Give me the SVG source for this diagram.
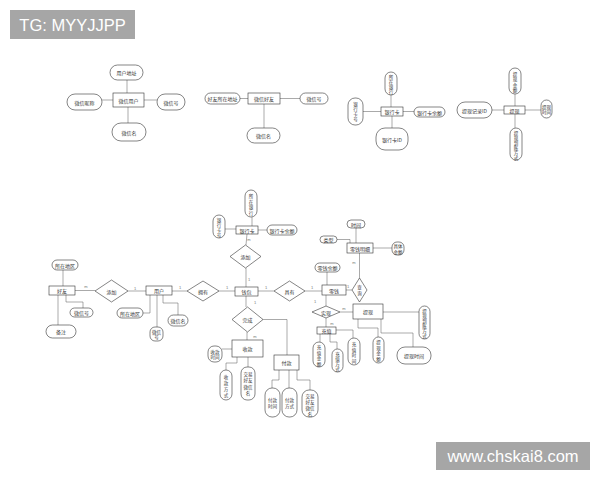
<svg xmlns="http://www.w3.org/2000/svg" width="600" height="480" viewBox="0 0 600 480">
<style>
.n{fill:#fff;stroke:#333;stroke-width:0.6}
.c{fill:none;stroke:#555;stroke-width:0.5}
.t{font-family:"Noto Sans CJK SC",sans-serif;font-size:5px;fill:#333;text-anchor:middle;dominant-baseline:central}
.v{font-family:"Noto Sans CJK SC",sans-serif;font-size:4.5px;fill:#333;text-anchor:middle;dominant-baseline:central}
.l{font-family:"Liberation Sans",sans-serif;font-size:4px;fill:#777;text-anchor:middle;dominant-baseline:central}
.w{font-family:"Liberation Sans",sans-serif;font-size:16.5px;fill:#fff;text-anchor:middle;dominant-baseline:central}
</style>
<rect width="600" height="480" fill="#fff"/>

<g id="connectors">
<!-- cluster 1 -->
<path class="c" d="M127,80V93M102,100H113M144,100H157M128,107V123"/>
<!-- cluster 2 -->
<path class="c" d="M240,98.5H248M280,98.5H300M264,104V128"/>
<!-- cluster 3 -->
<path class="c" d="M391,95V107M363,111.5H381M403,111.5H414M392,116V128"/>
<!-- cluster 4 -->
<path class="c" d="M515,94V106M492,110H504M525,110H541M515,114V128"/>
<!-- bottom -->
<path class="c" d="M63,270V286M66,295V302H83V308M58,295V325"/>
<path class="c" d="M75,290.5H95M128,291H146"/>
<path class="c" d="M150,295V313H143M157,295V327M163,295V303H178V315"/>
<path class="c" d="M172,291H187M219,291H235"/>
<path class="c" d="M252,217V226M225,229H236M258,230H267"/>
<path class="c" d="M247,234L246,245M246,268V287"/>
<path class="c" d="M258,291H274M305,291H322"/>
<path class="c" d="M327,272V285M346,290H352M359.5,278V253"/>
<path class="c" d="M356,228V243M337,239.5H350V243M373,248H392"/>
<path class="c" d="M326,295V306M340,312H353M383,312H419"/>
<path class="c" d="M381,319V333H413V347M358,319V328H378V337"/>
<path class="c" d="M326,318V327M320,334V342M330,334V342H337V349M336,330H353V338"/>
<path class="c" d="M246,296V307M263,319.5H287V355M247,332V340"/>
<path class="c" d="M232,349H222M237,357V363H226V370M248,357V367"/>
<path class="c" d="M279,370V380H272V388M289,370V388M297,370V380H310V390"/>
<!-- cardinality labels -->
<text class="l" x="86" y="286">m</text>
<text class="l" x="135" y="288">1</text>
<text class="l" x="180" y="287">1</text>
<text class="l" x="227" y="287">1</text>
<text class="l" x="249" y="239">m</text>
<text class="l" x="249" y="279">1</text>
<text class="l" x="266" y="287">1</text>
<text class="l" x="312" y="287">1</text>
<text class="l" x="348" y="286">1</text>
<text class="l" x="354" y="262">m</text>
<text class="l" x="315" y="301">1</text>
<text class="l" x="344" y="308">m</text>
<text class="l" x="332" y="323">m</text>
<text class="l" x="255" y="302">1</text>
<text class="l" x="255" y="336">m</text>
</g>

<!-- cluster 1 -->
<g id="wx-user"><rect class="n" x="113" y="93" width="31" height="14"/><text class="t" x="128.5" y="100">微信用户</text></g>
<g id="wx-user-addr"><rect class="n" x="110" y="65" width="33" height="15" rx="7.5"/><text class="t" x="126.5" y="72.5">用户地址</text></g>
<g id="wx-user-nick"><rect class="n" x="67" y="94" width="35" height="16" rx="8"/><text class="t" x="84.5" y="102">微信昵称</text></g>
<g id="wx-user-id"><rect class="n" x="157" y="94" width="28" height="16" rx="8"/><text class="t" x="171" y="102">微信号</text></g>
<g id="wx-user-name"><rect class="n" x="112" y="123" width="34" height="18" rx="9"/><text class="t" x="129" y="132">微信名</text></g>

<!-- cluster 2 -->
<g id="wx-friend"><rect class="n" x="248" y="93" width="32" height="11"/><text class="t" x="264" y="98.5">微信好友</text></g>
<g id="wx-friend-addr"><rect class="n" x="205" y="93" width="35" height="11" rx="5.5"/><text class="t" x="222.5" y="98.5">好友所在地址</text></g>
<g id="wx-friend-id"><rect class="n" x="300" y="93" width="28" height="11" rx="5.5"/><text class="t" x="314" y="98.5">微信号</text></g>
<g id="wx-friend-name"><rect class="n" x="247" y="128" width="33" height="15" rx="7.5"/><text class="t" x="263.5" y="135.5">微信名</text></g>

<!-- cluster 3 -->
<g id="card"><rect class="n" x="381" y="107" width="22" height="9"/><text class="t" x="392" y="111.5">银行卡</text></g>
<g id="card-bank"><rect class="n" x="385" y="72" width="12" height="23" rx="6"/><text class="v" x="391"><tspan x="391" y="76.5">所</tspan><tspan x="391" y="81.5">在</tspan><tspan x="391" y="86.5">银</tspan><tspan x="391" y="91.5">行</tspan></text></g>
<g id="card-no"><rect class="n" x="348" y="98" width="15" height="27" rx="7"/><text class="v"><tspan x="355.5" y="104">银</tspan><tspan x="355.5" y="109">行</tspan><tspan x="355.5" y="114">卡</tspan><tspan x="355.5" y="119">号</tspan></text></g>
<g id="card-bal"><rect class="n" x="414" y="107" width="31" height="10" rx="5"/><text class="t" x="429.5" y="112">银行卡余额</text></g>
<g id="card-id"><rect class="n" x="376" y="128" width="32" height="22" rx="9"/><text class="t" x="392" y="139">银行卡ID</text></g>

<!-- cluster 4 -->
<g id="wd"><rect class="n" x="504" y="106" width="21" height="8"/><text class="t" x="514.5" y="110">提现</text></g>
<g id="wd-amt"><rect class="n" x="509" y="68" width="12" height="26" rx="6"/><text class="v"><tspan x="515" y="73.5">提</tspan><tspan x="515" y="79">现</tspan><tspan x="515" y="84.5">金</tspan><tspan x="515" y="90">额</tspan></text></g>
<g id="wd-id"><rect class="n" x="457" y="102" width="35" height="16" rx="8"/><text class="t" x="474.5" y="110">提现记录ID</text></g>
<g id="wd-time"><rect class="n" x="541" y="100" width="11" height="18" rx="5.5"/><text class="v"><tspan x="546.5" y="106.5">提现</tspan><tspan x="546.5" y="112">时间</tspan></text></g>
<g id="wd-way"><rect class="n" x="510" y="128" width="12" height="32" rx="6"/><text class="v"><tspan x="516" y="132.5">提</tspan><tspan x="516" y="137.5">现</tspan><tspan x="516" y="142.5">到</tspan><tspan x="516" y="147.5">账</tspan><tspan x="516" y="152.5">方</tspan><tspan x="516" y="157.5">式</tspan></text></g>

<!-- bottom ER -->
<g id="friend"><rect class="n" x="49" y="286" width="26" height="9"/><text class="t" x="62" y="290.5">好友</text></g>
<g id="friend-area"><rect class="n" x="52" y="260" width="26" height="10" rx="5"/><text class="t" x="65" y="265">所在地区</text></g>
<g id="friend-id"><rect class="n" x="70" y="308" width="23" height="9" rx="4.5"/><text class="t" x="81.5" y="312.5">微信号</text></g>
<g id="friend-note"><rect class="n" x="46" y="325" width="30" height="13" rx="6.5"/><text class="t" x="61" y="331.5">备注</text></g>
<g id="rel-add1"><polygon class="n" points="95,291 111.5,280 128,291 111.5,302"/><text class="t" x="111.5" y="291">添加</text></g>
<g id="user"><rect class="n" x="146" y="286" width="26" height="9"/><text class="t" x="159" y="290.5">用户</text></g>
<g id="user-area"><rect class="n" x="117" y="308" width="26" height="10" rx="5"/><text class="t" x="130" y="313">所在地区</text></g>
<g id="user-id"><rect class="n" x="150" y="327" width="13" height="14" rx="5"/><text class="v"><tspan x="156.5" y="331.5">微信</tspan><tspan x="156.5" y="336.5">号</tspan></text></g>
<g id="user-name"><rect class="n" x="168" y="315" width="20" height="11" rx="5.5"/><text class="t" x="178" y="320.5">微信名</text></g>
<g id="rel-own"><polygon class="n" points="187,291 203,281 219,291 203,301"/><text class="t" x="203" y="291">拥有</text></g>
<g id="wallet"><rect class="n" x="235" y="287" width="23" height="9"/><text class="t" x="246.5" y="291.5">钱包</text></g>
<g id="bcard"><rect class="n" x="236" y="226" width="22" height="8"/><text class="t" x="247" y="230">银行卡</text></g>
<g id="bcard-bank"><rect class="n" x="245" y="190" width="12" height="27" rx="6"/><text class="v"><tspan x="251" y="196">所</tspan><tspan x="251" y="201.5">在</tspan><tspan x="251" y="207">银</tspan><tspan x="251" y="212.5">行</tspan></text></g>
<g id="bcard-no"><rect class="n" x="213" y="215" width="12" height="23" rx="6"/><text class="v"><tspan x="219" y="219.5">银</tspan><tspan x="219" y="224.5">行</tspan><tspan x="219" y="229.5">卡</tspan><tspan x="219" y="234.5">号</tspan></text></g>
<g id="bcard-bal"><rect class="n" x="267" y="225" width="30" height="10" rx="5"/><text class="t" x="282" y="230">银行卡余额</text></g>
<g id="rel-add2"><polygon class="n" points="230,256.5 245.5,245 261,256.5 245.5,268"/><text class="t" x="245.5" y="256.5">添加</text></g>
<g id="rel-has"><polygon class="n" points="274,291 289.5,281 305,291 289.5,301"/><text class="t" x="289.5" y="291">具有</text></g>
<g id="change"><rect class="n" x="322" y="285" width="24" height="10"/><text class="t" x="334" y="290">零钱</text></g>
<g id="change-bal"><rect class="n" x="315" y="263" width="25" height="9" rx="4.5"/><text class="t" x="327.5" y="267.5">零钱余额</text></g>
<g id="rel-query"><polygon class="n" points="352,290 359.5,278 367,290 359.5,302"/><text class="v"><tspan x="359.5" y="287">查</tspan><tspan x="359.5" y="293">询</tspan></text></g>
<g id="detail"><rect class="n" x="347" y="243" width="26" height="10"/><text class="t" x="360" y="248">零钱明细</text></g>
<g id="detail-time"><rect class="n" x="347" y="220" width="18" height="8" rx="4"/><text class="t" x="356" y="224">时间</text></g>
<g id="detail-type"><rect class="n" x="320" y="236" width="17" height="7" rx="3.5"/><text class="t" x="328.5" y="239.5">类型</text></g>
<g id="detail-amt"><rect class="n" x="392" y="242" width="12" height="13" rx="5"/><text class="v"><tspan x="398" y="246">具体</tspan><tspan x="398" y="251.5">金额</tspan></text></g>
<g id="rel-impl"><polygon class="n" points="312,312 326,306 340,312 326,318"/><text class="t" x="326" y="312">实现</text></g>
<g id="withdraw"><rect class="n" x="353" y="304" width="30" height="15"/><text class="t" x="368" y="311.5">提现</text></g>
<g id="withdraw-way"><rect class="n" x="419" y="306" width="11" height="33" rx="5.5"/><text class="v"><tspan x="424.5" y="311">提</tspan><tspan x="424.5" y="316">现</tspan><tspan x="424.5" y="321">到</tspan><tspan x="424.5" y="326">账</tspan><tspan x="424.5" y="331">方</tspan><tspan x="424.5" y="336">式</tspan></text></g>
<g id="withdraw-time"><rect class="n" x="397" y="347" width="34" height="17" rx="8"/><text class="t" x="414" y="355.5">提现时间</text></g>
<g id="withdraw-amt"><rect class="n" x="373" y="337" width="11" height="26" rx="5.5"/><text class="v"><tspan x="378.5" y="342">提</tspan><tspan x="378.5" y="347.5">现</tspan><tspan x="378.5" y="353">金</tspan><tspan x="378.5" y="358.5">额</tspan></text></g>
<g id="recharge"><rect class="n" x="317" y="327" width="19" height="7"/><text class="t" x="326.5" y="330.5">充值</text></g>
<g id="recharge-amt"><rect class="n" x="313" y="342" width="12" height="25" rx="6"/><text class="v"><tspan x="319" y="347">充</tspan><tspan x="319" y="352.5">值</tspan><tspan x="319" y="358">金</tspan><tspan x="319" y="363.5">额</tspan></text></g>
<g id="recharge-way"><rect class="n" x="332" y="349" width="11" height="23" rx="5.5"/><text class="v"><tspan x="337.5" y="353.5">充</tspan><tspan x="337.5" y="358.5">值</tspan><tspan x="337.5" y="363.5">方</tspan><tspan x="337.5" y="368.5">式</tspan></text></g>
<g id="recharge-time"><rect class="n" x="348" y="338" width="12" height="27" rx="6"/><text class="v"><tspan x="354" y="344">充</tspan><tspan x="354" y="349.5">值</tspan><tspan x="354" y="355">时</tspan><tspan x="354" y="360.5">间</tspan></text></g>
<g id="rel-done"><polygon class="n" points="232,319.5 247.5,307 263,319.5 247.5,332"/><text class="t" x="247.5" y="319.5">完成</text></g>
<g id="receive"><rect class="n" x="232" y="340" width="31" height="17"/><text class="t" x="247.5" y="348.5">收款</text></g>
<g id="receive-time"><rect class="n" x="208" y="346" width="14" height="16" rx="6"/><text class="v"><tspan x="215" y="351.5">收款</tspan><tspan x="215" y="357">时间</tspan></text></g>
<g id="receive-way"><rect class="n" x="220" y="370" width="12" height="30" rx="6"/><text class="v"><tspan x="226" y="376.5">收</tspan><tspan x="226" y="382.5">款</tspan><tspan x="226" y="388.5">方</tspan><tspan x="226" y="394.5">式</tspan></text></g>
<g id="receive-friend"><rect class="n" x="241" y="367" width="14" height="33" rx="6"/><text class="v"><tspan x="248" y="373.5">交易</tspan><tspan x="248" y="380">好友</tspan><tspan x="248" y="386.5">微信</tspan><tspan x="248" y="393">名</tspan></text></g>
<g id="pay"><rect class="n" x="274" y="355" width="25" height="15"/><text class="t" x="286.5" y="362.5">付款</text></g>
<g id="pay-time"><rect class="n" x="265" y="388" width="15" height="29" rx="7"/><text class="v"><tspan x="272.5" y="399.5">付款</tspan><tspan x="272.5" y="405.5">时间</tspan></text></g>
<g id="pay-way"><rect class="n" x="282" y="388" width="15" height="29" rx="7"/><text class="v"><tspan x="289.5" y="399.5">付款</tspan><tspan x="289.5" y="405.5">方式</tspan></text></g>
<g id="pay-friend"><rect class="n" x="302" y="390" width="16" height="27" rx="7"/><text class="v"><tspan x="310" y="395.5">交易</tspan><tspan x="310" y="401.5">好友</tspan><tspan x="310" y="407.5">微信</tspan><tspan x="310" y="413.5">名</tspan></text></g>

<!-- watermarks -->
<g id="wm-top"><rect x="10" y="10" width="125" height="29" fill="#a6a6a6"/><text class="w" x="72.5" y="24.5">TG: MYYJJPP</text></g>
<g id="wm-bottom"><rect x="436" y="442" width="154" height="28" fill="#a6a6a6"/><text class="w" x="513" y="456">www.chskai8.com</text></g>
</svg>
